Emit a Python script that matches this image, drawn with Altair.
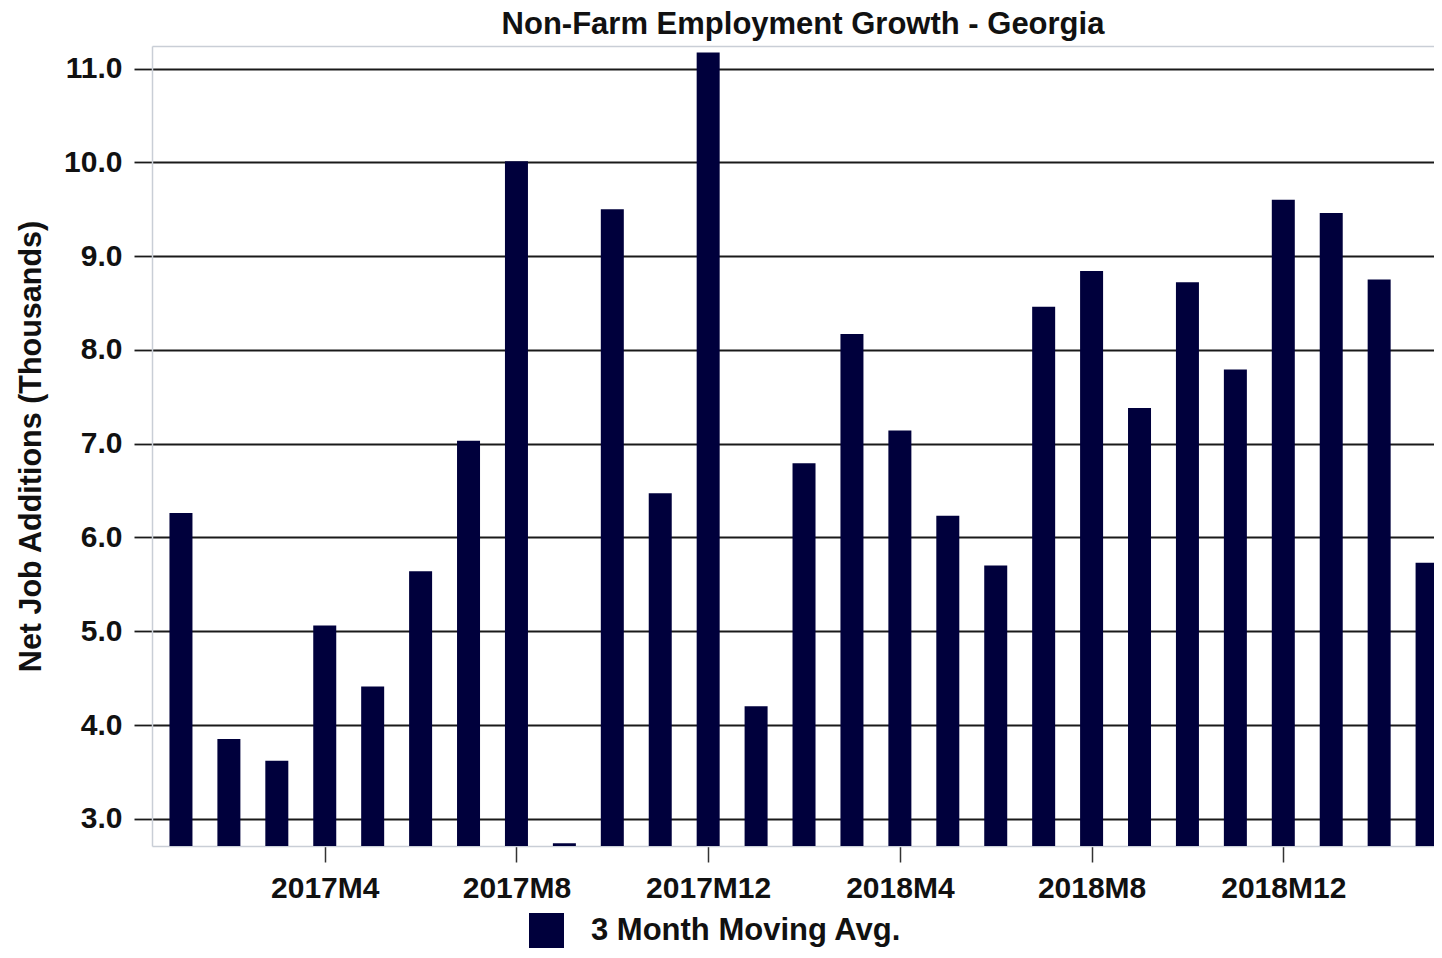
import altair as alt
import pandas as pd

periods = [
    "2017M1", "2017M2", "2017M3", "2017M4", "2017M5", "2017M6", "2017M7",
    "2017M8", "2017M9", "2017M10", "2017M11", "2017M12",
    "2018M1", "2018M2", "2018M3", "2018M4", "2018M5", "2018M6", "2018M7",
    "2018M8", "2018M9", "2018M10", "2018M11", "2018M12",
    "2019M1", "2019M2", "2019M3",
]
values = [
    6.26, 3.85, 3.62, 5.06, 4.41, 5.64, 7.03, 10.01, 2.74, 9.50, 6.47, 11.17,
    4.20, 6.79, 8.17, 7.14, 6.23, 5.70, 8.46, 8.84, 7.38, 8.72, 7.79, 9.60,
    9.46, 8.75, 5.73,
]
series_name = "3 Month Moving Avg."
tick_labels = ["2017M4", "2017M8", "2017M12", "2018M4", "2018M8", "2018M12"]
y_ticks = [3.0, 4.0, 5.0, 6.0, 7.0, 8.0, 9.0, 10.0, 11.0]

df = pd.DataFrame({
    "idx": list(range(len(periods))),
    "period": periods,
    "value": values,
    "series": [series_name] * len(periods),
})

tick_idx = [periods.index(t) for t in tick_labels]
label_expr = "[" + ",".join(f"'{p}'" for p in periods) + "][datum.value]"

FONT = "Liberation Sans"
BAR = "#00003c"
FRAME = "#c9ced6"

x_scale = alt.Scale(domain=[-0.5, 26.04], nice=False, zero=False)

bars = alt.Chart(df).mark_bar(width=23, clip=True).encode(
    x=alt.X(
        "idx:Q",
        scale=x_scale,
        axis=alt.Axis(
            values=tick_idx, labelExpr=label_expr, title=None, grid=False,
            domain=True, domainColor=FRAME, domainWidth=1.5,
            tickSize=16, tickWidth=1.5, tickColor="#333333",
            labelPadding=11, labelFontSize=30, labelFont=FONT,
            labelFontWeight="bold", labelColor="#111111",
        ),
    ),
    y=alt.Y(
        "value:Q",
        scale=alt.Scale(domain=[2.71, 11.24], nice=False, zero=False),
        axis=alt.Axis(
            values=y_ticks, format=".1f", title="Net Job Additions (Thousands)",
            domain=True, domainColor=FRAME, domainWidth=1.5,
            grid=True, gridColor="#1a1a1a", gridWidth=1.8,
            tickSize=18, tickColor="#1a1a1a", tickWidth=1.8,
            labelPadding=12, labelFontSize=30, labelFont=FONT,
            labelFontWeight="bold", labelColor="#111111",
            titleFontSize=30.5, titleFont=FONT, titleFontWeight="bold",
            titleColor="#111111", titlePadding=17,
        ),
    ),
    color=alt.Color(
        "series:N",
        scale=alt.Scale(range=[BAR]),
        legend=alt.Legend(
            title=None, orient="none", legendX=377, legendY=867,
            symbolType="square", symbolSize=1225, symbolStrokeWidth=0,
            symbolOpacity=1, labelFontSize=31, labelFont=FONT,
            labelFontWeight="bold", labelColor="#111111", labelOffset=27,
            labelLimit=0,
        ),
    ),
)

top_frame = alt.Chart(df).mark_point(opacity=0).encode(
    x=alt.X(
        "idx:Q",
        axis=alt.Axis(
            orient="top", labels=False, ticks=False, title=None, grid=False,
            domain=True, domainColor=FRAME, domainWidth=1.5,
        ),
    ),
)

chart = alt.layer(bars, top_frame).resolve_axis(x="independent").properties(
    width=1282,
    height=800,
    title=alt.TitleParams(
        "Non-Farm Employment Growth - Georgia",
        fontSize=31, font=FONT, fontWeight="bold", color="#111111",
        anchor="middle", dx=10, offset=5,
    ),
    autosize=alt.AutoSizeParams(type="none"),
    padding={"left": 144, "top": 38, "right": 0, "bottom": 102},
).configure_view(
    stroke=None,
)

chart.save("out.html", embed_options={"renderer": "svg", "actions": False})
